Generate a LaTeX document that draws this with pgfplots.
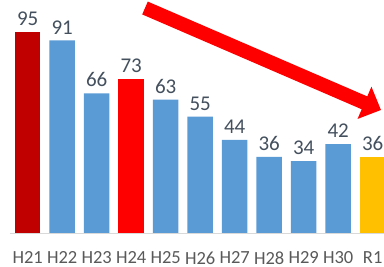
\documentclass[border=0pt]{standalone}
\usepackage{pgfplots}
\pgfplotsset{compat=1.18}
\usepackage{fontspec}
\setmainfont{Carlito}
\usetikzlibrary{arrows.meta}
\definecolor{darkred}{HTML}{C00000}
\definecolor{barblue}{HTML}{5B9BD5}
\definecolor{barred}{HTML}{FF0000}
\definecolor{baryellow}{HTML}{FFC000}
\definecolor{lblgray}{HTML}{595959}
\definecolor{numgray}{HTML}{44505E}
\begin{document}
\begin{tikzpicture}[x=1pt,y=1pt]
\path[use as bounding box, clip] (0,0) rectangle (384,267);
\begin{axis}[
  at={(10.45pt,34pt)}, anchor=south west,
  scale only axis, width=379.5pt, height=232.8pt,
  xmin=-0.5, xmax=10.5, ymin=0, ymax=110,
  bar width=25.5pt,
  /pgf/number format/assume math mode=true,
  axis y line=none, axis x line*=bottom,
  x axis line style={draw=black!15, line width=0.8pt, -},
  xtick={0,...,10},
  xticklabels={H21,H22,H23,H24,H25,H26,H27,H28,H29,H30,R1},
  major tick length=0pt,
  xticklabel style={font=\fontsize{18.5}{18.5}\selectfont, text=lblgray, anchor=north, inner sep=0pt, yshift=-18.5pt},
  nodes near coords,
  nodes near coords style={font=\fontsize{21}{21}\selectfont, text=numgray, anchor=south, inner sep=0pt, yshift=6pt},
  clip=false,
]
\addplot[ybar, bar shift=0pt, fill=darkred, draw=none] coordinates {(0,95)};
\addplot[ybar, bar shift=0pt, fill=barblue, draw=none] coordinates {(1,91) (2,66) (4,63) (5,55) (6,44) (7,36) (8,34) (9,42)};
\addplot[ybar, bar shift=0pt, fill=barred, draw=none] coordinates {(3,73)};
\addplot[ybar, bar shift=0pt, fill=baryellow, draw=none] coordinates {(10,36)};
\end{axis}
\draw[barred, line width=14pt, -{Triangle[length=18pt,width=34pt]}] (145,259) -- (381,157);
\end{tikzpicture}
\end{document}
